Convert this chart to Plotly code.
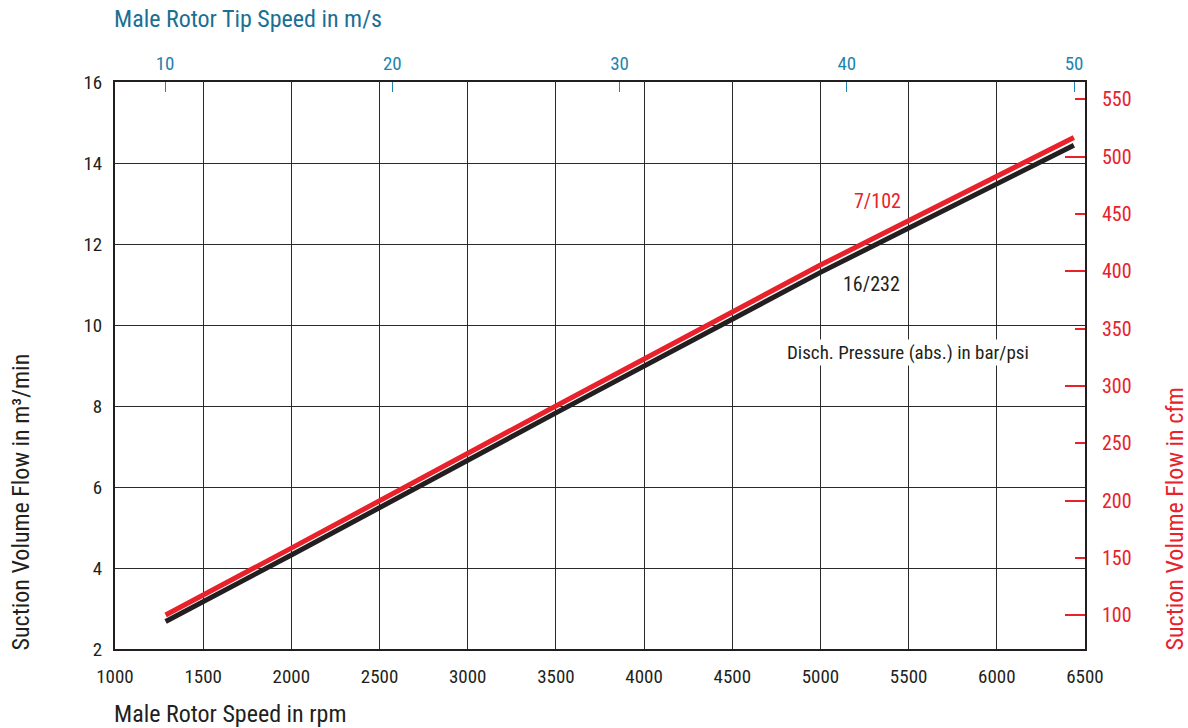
import plotly.graph_objects as go

# Data
rpm_points = [1287, 2000, 3500, 5000, 6437]
flow_7_102 = [2.84, 4.49, 8.00, 11.48, 14.63]   # m3/min, red
flow_16_232 = [2.68, 4.32, 7.83, 11.30, 14.44]  # m3/min, black

x_ticks = [1000, 1500, 2000, 2500, 3000, 3500, 4000, 4500, 5000, 5500, 6000, 6500]
y_ticks = [2, 4, 6, 8, 10, 12, 14, 16]
tip_speed_ticks = [10, 20, 30, 40, 50]
cfm_ticks = [100, 150, 200, 250, 300, 350, 400, 450, 500, 550]
cfm_major = [100, 200, 300, 400, 500]

M3MIN_TO_CFM = 35.3147
RED = "#e8212b"
BLUE = "#1f84ad"
TITLE_BLUE = "#1a6f95"
DARK = "#231f20"
FONT = "Liberation Sans Narrow, Arial Narrow, Roboto Condensed, Roboto, sans-serif"

fig = go.Figure()
fig.add_trace(go.Scatter(x=rpm_points, y=flow_7_102, mode="lines",
                         line=dict(color=RED, width=5), hoverinfo="skip", showlegend=False))
fig.add_trace(go.Scatter(x=rpm_points, y=flow_16_232, mode="lines",
                         line=dict(color=DARK, width=5), hoverinfo="skip", showlegend=False))
# invisible traces to activate the secondary axes
fig.add_trace(go.Scatter(x=[30], y=[300], xaxis="x2", yaxis="y2", mode="markers",
                         marker=dict(opacity=0), hoverinfo="skip", showlegend=False))
fig.add_trace(go.Scatter(x=[3000], y=[300], xaxis="x", yaxis="y3", mode="markers",
                         marker=dict(opacity=0), hoverinfo="skip", showlegend=False))

W, H = 1188, 728
PL, PR, PT, PB = 115, 1085, 82, 649  # plot area in page pixels
L, T, R, B = PL, PT, W - PR, H - PB
pw, ph = PR - PL, PB - PT

def px(xp):
    return (xp - PL) / pw

def py(yp):
    return (PB - yp) / ph

fig.update_layout(
    width=W, height=H,
    margin=dict(l=L, r=R, t=T, b=B),
    paper_bgcolor="white", plot_bgcolor="white",
    font=dict(family=FONT, size=19, color=DARK),
    xaxis=dict(range=[1000, 6500], tickvals=x_ticks, showgrid=True, gridcolor="#2a2a2a",
               gridwidth=1, showline=True, linecolor=DARK, linewidth=2, mirror=True,
               ticks="", zeroline=False, tickfont=dict(size=19, color=DARK),
               ticklabelstandoff=9),
    yaxis=dict(range=[2, 16], tickvals=y_ticks, showgrid=True, gridcolor="#2a2a2a",
               gridwidth=1, showline=True, linecolor=DARK, linewidth=2, mirror=True,
               ticks="", zeroline=False, tickfont=dict(size=19, color=DARK),
               ticklabelstandoff=7),
    xaxis2=dict(overlaying="x", side="top", range=[7.80, 50.48], tickvals=tip_speed_ticks,
                ticks="inside", ticklen=10, tickcolor=BLUE, tickwidth=1.2,
                tickfont=dict(size=19, color=BLUE), showgrid=False, zeroline=False,
                showline=False, ticklabelstandoff=7),
    yaxis2=dict(overlaying="y", side="right", range=[2 * M3MIN_TO_CFM, 16 * M3MIN_TO_CFM],
                tickvals=cfm_ticks, ticks="inside", ticklen=10, tickcolor=RED, tickwidth=1.5,
                tickfont=dict(size=20, color=RED), showgrid=False, zeroline=False,
                showline=False, ticklabelstandoff=16),
    yaxis3=dict(overlaying="y", side="right", range=[2 * M3MIN_TO_CFM, 16 * M3MIN_TO_CFM],
                tickvals=cfm_major, ticks="inside", ticklen=20, tickcolor=RED, tickwidth=1.5,
                showticklabels=False, showgrid=False, zeroline=False, showline=False),
)

annotations = [
    dict(text="Male Rotor Tip Speed in m/s", xref="paper", yref="paper",
         x=px(112), y=py(19), xanchor="left", yanchor="middle", showarrow=False,
         font=dict(size=24, color=TITLE_BLUE, family=FONT)),
    dict(text="Male Rotor Speed in rpm", xref="paper", yref="paper",
         x=px(112), y=py(714), xanchor="left", yanchor="middle", showarrow=False,
         font=dict(size=24, color=DARK, family=FONT)),
    dict(text="Suction Volume Flow in m³/min", xref="paper", yref="paper",
         x=px(20), y=py(653), xanchor="center", yanchor="bottom", textangle=-90,
         showarrow=False, font=dict(size=24, color=DARK, family=FONT)),
    dict(text="Suction Volume Flow in cfm", xref="paper", yref="paper",
         x=px(1174), y=py(653), xanchor="center", yanchor="bottom", textangle=-90,
         showarrow=False, font=dict(size=24, color=RED, family=FONT)),
    dict(text="7/102", x=5321, y=13.06, xref="x", yref="y", showarrow=False,
         font=dict(size=20, color=RED, family=FONT)),
    dict(text="16/232", x=5292, y=11.01, xref="x", yref="y", showarrow=False,
         font=dict(size=20, color=DARK, family=FONT)),
    dict(text="Disch. Pressure (abs.) in bar/psi", x=5496, y=9.33, xref="x", yref="y",
         showarrow=False, bgcolor="white", font=dict(size=19, color=DARK, family=FONT)),
]
fig.update_layout(annotations=annotations)

fig.write_html("out.html", config={"displayModeBar": False},
               post_script="document.body.style.margin='0';document.body.style.overflow='hidden';")
